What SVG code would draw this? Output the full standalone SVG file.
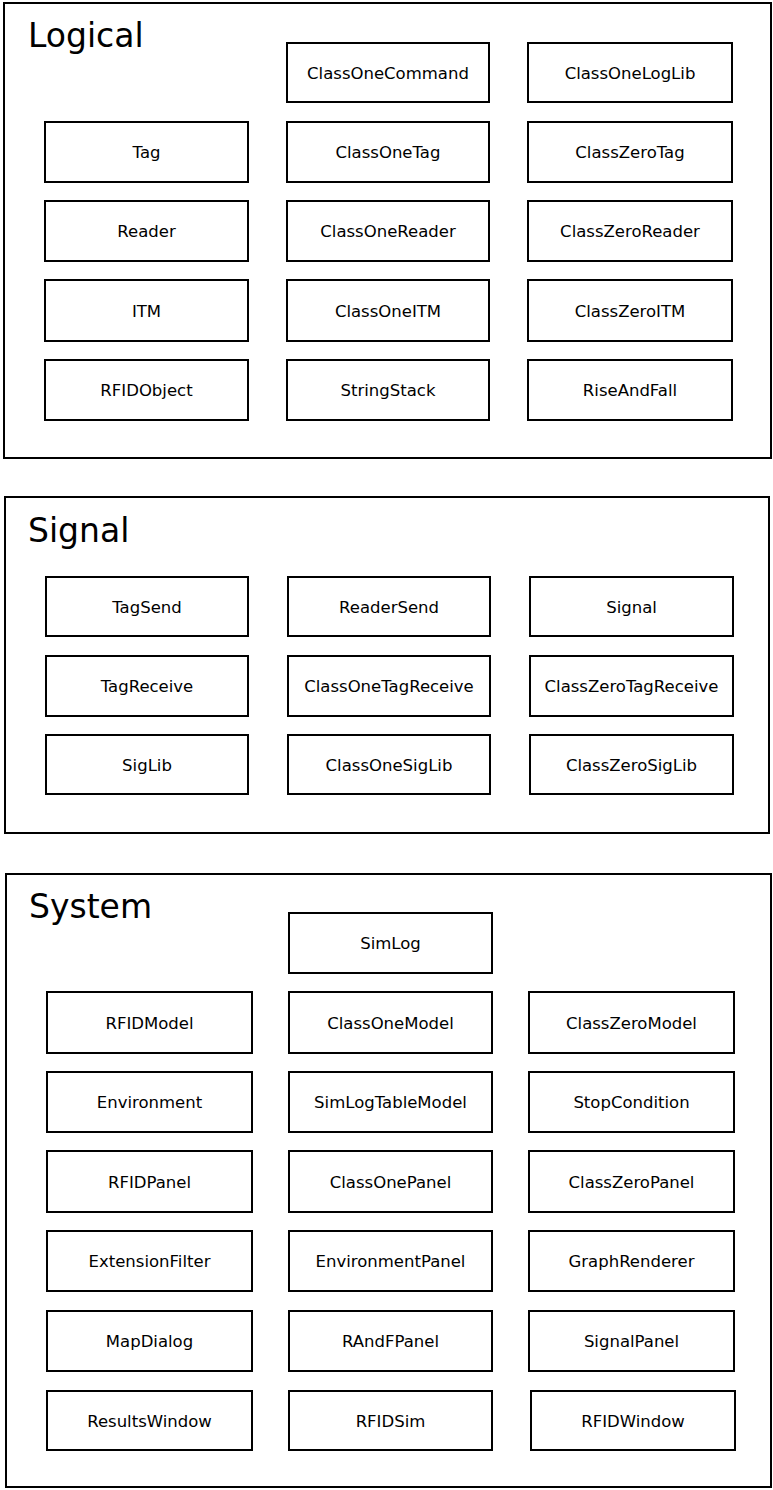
<svg xmlns="http://www.w3.org/2000/svg" width="773" height="1490" viewBox="0 0 773 1490">
  <style>
    .frame { fill: #fff; stroke: #000; stroke-width: 2; }
    .box { fill: #fff; stroke: #000; stroke-width: 2; }
    .title { font-family: "DejaVu Sans", Verdana, sans-serif; font-size: 33px; fill: #000; }
    .label { font-family: "DejaVu Sans", Verdana, sans-serif; font-size: 16.5px; fill: #000; text-anchor: middle; }
  </style>
  <rect width="773" height="1490" fill="#fff"/>

  <!-- Package frames -->
  <g id="pkg-logical">
    <rect class="frame" x="4" y="3" width="767" height="455"/>
    <text class="title" x="28" y="47">Logical</text>
  </g>
  <g id="pkg-signal">
    <rect class="frame" x="5" y="497" width="764" height="336"/>
    <text class="title" x="28" y="542">Signal</text>
  </g>
  <g id="pkg-system">
    <rect class="frame" x="6" y="874" width="765" height="613"/>
    <text class="title" x="29" y="918">System</text>
  </g>

  <!-- Logical classes -->
  <g id="ClassOneCommand"><rect class="box" x="287" y="43" width="202" height="59"/><text class="label" x="388" y="78.5">ClassOneCommand</text></g>
  <g id="ClassOneLogLib"><rect class="box" x="528" y="43" width="204" height="59"/><text class="label" x="630" y="78.5">ClassOneLogLib</text></g>
  <g id="Tag"><rect class="box" x="45" y="122" width="203" height="60"/><text class="label" x="146.5" y="158">Tag</text></g>
  <g id="ClassOneTag"><rect class="box" x="287" y="122" width="202" height="60"/><text class="label" x="388" y="158">ClassOneTag</text></g>
  <g id="ClassZeroTag"><rect class="box" x="528" y="122" width="204" height="60"/><text class="label" x="630" y="158">ClassZeroTag</text></g>
  <g id="Reader"><rect class="box" x="45" y="201" width="203" height="60"/><text class="label" x="146.5" y="237">Reader</text></g>
  <g id="ClassOneReader"><rect class="box" x="287" y="201" width="202" height="60"/><text class="label" x="388" y="237">ClassOneReader</text></g>
  <g id="ClassZeroReader"><rect class="box" x="528" y="201" width="204" height="60"/><text class="label" x="630" y="237">ClassZeroReader</text></g>
  <g id="ITM"><rect class="box" x="45" y="280" width="203" height="61"/><text class="label" x="146.5" y="316.5">ITM</text></g>
  <g id="ClassOneITM"><rect class="box" x="287" y="280" width="202" height="61"/><text class="label" x="388" y="316.5">ClassOneITM</text></g>
  <g id="ClassZeroITM"><rect class="box" x="528" y="280" width="204" height="61"/><text class="label" x="630" y="316.5">ClassZeroITM</text></g>
  <g id="RFIDObject"><rect class="box" x="45" y="360" width="203" height="60"/><text class="label" x="146.5" y="396">RFIDObject</text></g>
  <g id="StringStack"><rect class="box" x="287" y="360" width="202" height="60"/><text class="label" x="388" y="396">StringStack</text></g>
  <g id="RiseAndFall"><rect class="box" x="528" y="360" width="204" height="60"/><text class="label" x="630" y="396">RiseAndFall</text></g>

  <!-- Signal classes -->
  <g id="TagSend"><rect class="box" x="46" y="577" width="202" height="59"/><text class="label" x="147" y="612.5">TagSend</text></g>
  <g id="ReaderSend"><rect class="box" x="288" y="577" width="202" height="59"/><text class="label" x="389" y="612.5">ReaderSend</text></g>
  <g id="Signal"><rect class="box" x="530" y="577" width="203" height="59"/><text class="label" x="631.5" y="612.5">Signal</text></g>
  <g id="TagReceive"><rect class="box" x="46" y="656" width="202" height="60"/><text class="label" x="147" y="692">TagReceive</text></g>
  <g id="ClassOneTagReceive"><rect class="box" x="288" y="656" width="202" height="60"/><text class="label" x="389" y="692">ClassOneTagReceive</text></g>
  <g id="ClassZeroTagReceive"><rect class="box" x="530" y="656" width="203" height="60"/><text class="label" x="631.5" y="692">ClassZeroTagReceive</text></g>
  <g id="SigLib"><rect class="box" x="46" y="735" width="202" height="59"/><text class="label" x="147" y="770.5">SigLib</text></g>
  <g id="ClassOneSigLib"><rect class="box" x="288" y="735" width="202" height="59"/><text class="label" x="389" y="770.5">ClassOneSigLib</text></g>
  <g id="ClassZeroSigLib"><rect class="box" x="530" y="735" width="203" height="59"/><text class="label" x="631.5" y="770.5">ClassZeroSigLib</text></g>

  <!-- System classes -->
  <g id="SimLog"><rect class="box" x="289" y="913" width="203" height="60"/><text class="label" x="390.5" y="949">SimLog</text></g>
  <g id="RFIDModel"><rect class="box" x="47" y="992" width="205" height="61"/><text class="label" x="149.5" y="1028.5">RFIDModel</text></g>
  <g id="ClassOneModel"><rect class="box" x="289" y="992" width="203" height="61"/><text class="label" x="390.5" y="1028.5">ClassOneModel</text></g>
  <g id="ClassZeroModel"><rect class="box" x="529" y="992" width="205" height="61"/><text class="label" x="631.5" y="1028.5">ClassZeroModel</text></g>
  <g id="Environment"><rect class="box" x="47" y="1072" width="205" height="60"/><text class="label" x="149.5" y="1108">Environment</text></g>
  <g id="SimLogTableModel"><rect class="box" x="289" y="1072" width="203" height="60"/><text class="label" x="390.5" y="1108">SimLogTableModel</text></g>
  <g id="StopCondition"><rect class="box" x="529" y="1072" width="205" height="60"/><text class="label" x="631.5" y="1108">StopCondition</text></g>
  <g id="RFIDPanel"><rect class="box" x="47" y="1151" width="205" height="61"/><text class="label" x="149.5" y="1187.5">RFIDPanel</text></g>
  <g id="ClassOnePanel"><rect class="box" x="289" y="1151" width="203" height="61"/><text class="label" x="390.5" y="1187.5">ClassOnePanel</text></g>
  <g id="ClassZeroPanel"><rect class="box" x="529" y="1151" width="205" height="61"/><text class="label" x="631.5" y="1187.5">ClassZeroPanel</text></g>
  <g id="ExtensionFilter"><rect class="box" x="47" y="1231" width="205" height="60"/><text class="label" x="149.5" y="1267">ExtensionFilter</text></g>
  <g id="EnvironmentPanel"><rect class="box" x="289" y="1231" width="203" height="60"/><text class="label" x="390.5" y="1267">EnvironmentPanel</text></g>
  <g id="GraphRenderer"><rect class="box" x="529" y="1231" width="205" height="60"/><text class="label" x="631.5" y="1267">GraphRenderer</text></g>
  <g id="MapDialog"><rect class="box" x="47" y="1311" width="205" height="60"/><text class="label" x="149.5" y="1347">MapDialog</text></g>
  <g id="RAndFPanel"><rect class="box" x="289" y="1311" width="203" height="60"/><text class="label" x="390.5" y="1347">RAndFPanel</text></g>
  <g id="SignalPanel"><rect class="box" x="529" y="1311" width="205" height="60"/><text class="label" x="631.5" y="1347">SignalPanel</text></g>
  <g id="ResultsWindow"><rect class="box" x="47" y="1391" width="205" height="59"/><text class="label" x="149.5" y="1426.5">ResultsWindow</text></g>
  <g id="RFIDSim"><rect class="box" x="289" y="1391" width="203" height="59"/><text class="label" x="390.5" y="1426.5">RFIDSim</text></g>
  <g id="RFIDWindow"><rect class="box" x="531" y="1391" width="204" height="59"/><text class="label" x="633" y="1426.5">RFIDWindow</text></g>

  <!-- No connectors in this package view -->
  <g id="connectors"/>
</svg>
